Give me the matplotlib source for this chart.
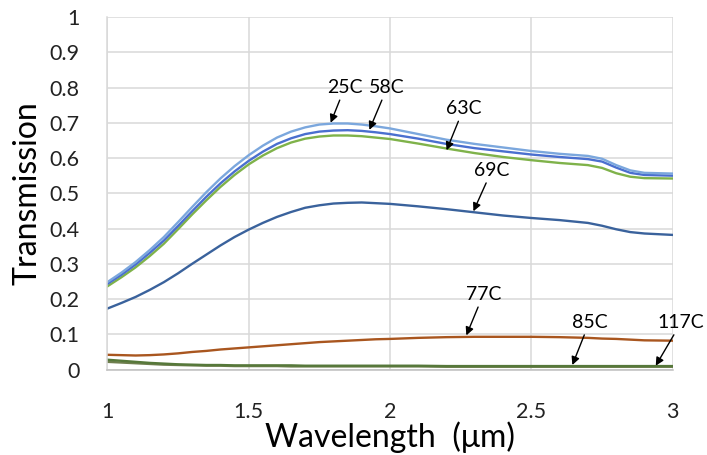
import matplotlib
matplotlib.use("Agg")
import matplotlib.pyplot as plt
from matplotlib.ticker import FuncFormatter

plt.rcParams['font.family'] = ['Lato', 'DejaVu Sans']

# Wavelength (um)
wavelength = [1.0, 1.05, 1.1, 1.15, 1.2, 1.25, 1.3, 1.35, 1.4, 1.45, 1.5, 1.55, 1.6, 1.65,
              1.7, 1.75, 1.8, 1.85, 1.9, 1.95, 2.0, 2.1, 2.2, 2.3, 2.4, 2.5, 2.6, 2.7,
              2.75, 2.8, 2.85, 2.9, 3.0]

# Transmission at each temperature
t25 = [0.248, 0.275, 0.305, 0.339, 0.376, 0.418, 0.461, 0.503, 0.542, 0.577, 0.608, 0.635,
       0.658, 0.675, 0.687, 0.695, 0.698, 0.698, 0.695, 0.690, 0.684, 0.668, 0.652, 0.640,
       0.630, 0.620, 0.612, 0.606, 0.598, 0.580, 0.565, 0.558, 0.556]
t58 = [0.243, 0.269, 0.298, 0.331, 0.366, 0.407, 0.449, 0.490, 0.528, 0.562, 0.592, 0.618,
       0.640, 0.656, 0.668, 0.675, 0.678, 0.679, 0.677, 0.673, 0.668, 0.655, 0.640, 0.628,
       0.619, 0.610, 0.603, 0.597, 0.590, 0.573, 0.558, 0.552, 0.550]
t63 = [0.236, 0.262, 0.290, 0.322, 0.357, 0.398, 0.440, 0.480, 0.518, 0.552, 0.582, 0.607,
       0.628, 0.644, 0.655, 0.661, 0.664, 0.664, 0.662, 0.658, 0.654, 0.641, 0.627, 0.614,
       0.603, 0.594, 0.586, 0.580, 0.572, 0.557, 0.547, 0.543, 0.542]
t69 = [0.173, 0.189, 0.206, 0.226, 0.248, 0.273, 0.300, 0.326, 0.352, 0.376, 0.397, 0.416,
       0.433, 0.447, 0.459, 0.466, 0.471, 0.473, 0.474, 0.472, 0.470, 0.463, 0.455, 0.446,
       0.437, 0.430, 0.424, 0.416, 0.408, 0.398, 0.390, 0.386, 0.382]
t77 = [0.042, 0.041, 0.040, 0.041, 0.043, 0.046, 0.050, 0.053, 0.057, 0.060, 0.063, 0.066,
       0.069, 0.072, 0.075, 0.078, 0.080, 0.082, 0.084, 0.086, 0.087, 0.090, 0.092, 0.093,
       0.093, 0.093, 0.092, 0.090, 0.088, 0.087, 0.085, 0.083, 0.082]
t85 = [0.028, 0.025, 0.022, 0.019, 0.017, 0.015, 0.014, 0.013, 0.013, 0.012, 0.012, 0.012,
       0.012, 0.012, 0.011, 0.011, 0.011, 0.011, 0.011, 0.011, 0.011, 0.011, 0.010, 0.010,
       0.010, 0.010, 0.010, 0.010, 0.010, 0.010, 0.010, 0.010, 0.010]
t117 = [0.022, 0.020, 0.018, 0.016, 0.014, 0.013, 0.012, 0.011, 0.011, 0.010, 0.010, 0.010,
        0.010, 0.009, 0.009, 0.009, 0.009, 0.009, 0.009, 0.009, 0.009, 0.009, 0.008, 0.008,
        0.008, 0.008, 0.008, 0.008, 0.008, 0.008, 0.008, 0.008, 0.008]

# label text, text position, arrow tip
labels = ['25C', '58C', '63C', '69C', '77C', '85C', '117C']
label_xy = [(1.84, 0.80), (1.99, 0.80), (2.26, 0.74), (2.36, 0.565),
            (2.33, 0.213), (2.705, 0.134), (3.03, 0.134)]
arrow_xy = [(1.79, 0.70), (1.927, 0.68), (2.20, 0.622), (2.295, 0.449),
            (2.27, 0.097), (2.645, 0.013), (2.94, 0.011)]

fig = plt.figure(figsize=(7.07, 4.55), dpi=100)
ax = fig.add_axes([0.1518, 0.1877, 0.7997, 0.7749])

lw = 1.7
ax.plot(wavelength, t117, color='#6f7f4f', lw=lw)
ax.plot(wavelength, t85, color='#56783a', lw=lw)
ax.plot(wavelength, t77, color='#a9561f', lw=lw)
ax.plot(wavelength, t69, color='#3a629c', lw=lw)
ax.plot(wavelength, t63, color='#7fb24a', lw=lw)
ax.plot(wavelength, t58, color='#4a6fcf', lw=lw)
ax.plot(wavelength, t25, color='#7ba7dd', lw=lw)

for lab, (tx, ty), (ax_, ay) in zip(labels, label_xy, arrow_xy):
    ax.annotate(lab, xy=(ax_, ay), xytext=(tx, ty), ha='center', va='center',
                fontsize=14, color='black', annotation_clip=False,
                arrowprops=dict(arrowstyle='-|>', color='black', lw=1.0,
                                shrinkA=1, shrinkB=0, mutation_scale=12))

ax.set_xlim(1, 3)
ax.set_ylim(0, 1)
ax.set_xticks([1, 1.5, 2, 2.5, 3])
ax.set_yticks([i / 10 for i in range(11)])
ax.xaxis.set_major_formatter(FuncFormatter(lambda v, p: f'{v:g}'))
ax.yaxis.set_major_formatter(FuncFormatter(lambda v, p: f'{v:g}'))
ax.tick_params(axis='both', length=0, labelsize=15.5, colors='#222222')
ax.tick_params(axis='y', pad=20)
ax.tick_params(axis='x', pad=23)

ax.grid(True, color='#d9d9d9', lw=1.1)
ax.set_axisbelow(True)
for s in ['top', 'right']:
    ax.spines[s].set_visible(False)
ax.spines['left'].set_color('#d9d9d9')
ax.spines['bottom'].set_color('#bfbfbf')
ax.spines['left'].set_linewidth(1.1)
ax.spines['bottom'].set_linewidth(1.1)

ax.set_xlabel('Wavelength  (\u03bcm)', fontsize=23, labelpad=0)
ax.set_ylabel('Transmission', fontsize=23, labelpad=5)

fig.savefig('out.png', dpi=100)
